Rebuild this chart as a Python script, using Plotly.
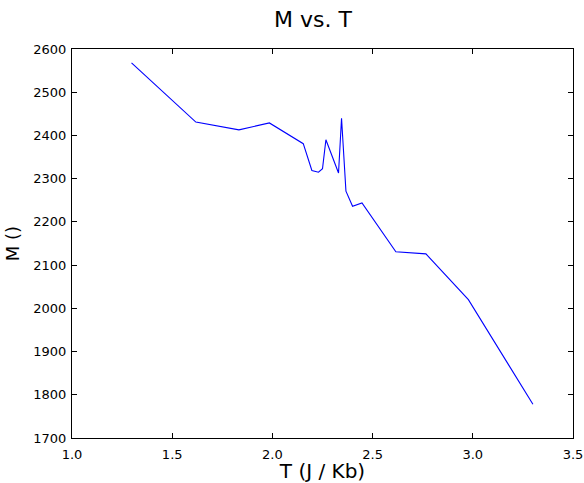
import plotly.graph_objects as go

# temperature (J / Kb) and magnetisation values
temperature = [1.297, 1.618, 1.833, 1.985, 2.154, 2.197, 2.230, 2.250, 2.267,
               2.330, 2.345, 2.367, 2.400, 2.447, 2.616, 2.766, 2.978, 3.300]
magnetisation = [2568, 2431, 2413, 2429, 2381, 2319, 2315, 2323, 2390,
                 2313, 2440, 2271, 2236, 2244, 2131, 2126, 2020, 1778]

x_ticks = [1.0, 1.5, 2.0, 2.5, 3.0, 3.5]
y_ticks = [1700, 1800, 1900, 2000, 2100, 2200, 2300, 2400, 2500, 2600]

fig = go.Figure(go.Scatter(x=temperature, y=magnetisation, mode="lines",
                           line=dict(color="blue", width=1.1)))

axis_style = dict(showline=True, linecolor="black", linewidth=1, mirror="allticks",
                  ticks="inside", ticklen=5, tickcolor="black", showgrid=False,
                  zeroline=False, automargin=False,
                  tickfont=dict(size=13, color="black"))

fig.update_layout(
    width=584, height=483,
    margin=dict(l=72, r=11, t=49, b=45),
    paper_bgcolor="white", plot_bgcolor="white",
    font=dict(family="DejaVu Sans", color="black"),
    showlegend=False,
    title=dict(text="M vs. T", x=0.536, xanchor="center", y=0.961, yanchor="middle",
               font=dict(size=22)),
    xaxis=dict(range=[1.0, 3.5], tickvals=x_ticks, ticktext=[f"{v:.1f}" for v in x_ticks],
               ticklabelstandoff=4,
               title=dict(text="T (J / Kb)", font=dict(size=20), standoff=6), **axis_style),
    yaxis=dict(range=[1700, 2600], tickvals=y_ticks, ticklabelstandoff=2,
               title=dict(text="M ()", font=dict(size=18), standoff=9), **axis_style),
)

# the page body has a default 8px margin; drop it so the figure fills the window
fig.write_html("out.html", config={"displayModeBar": False},
               post_script="document.body.style.margin='0';document.body.style.overflow='hidden';")
